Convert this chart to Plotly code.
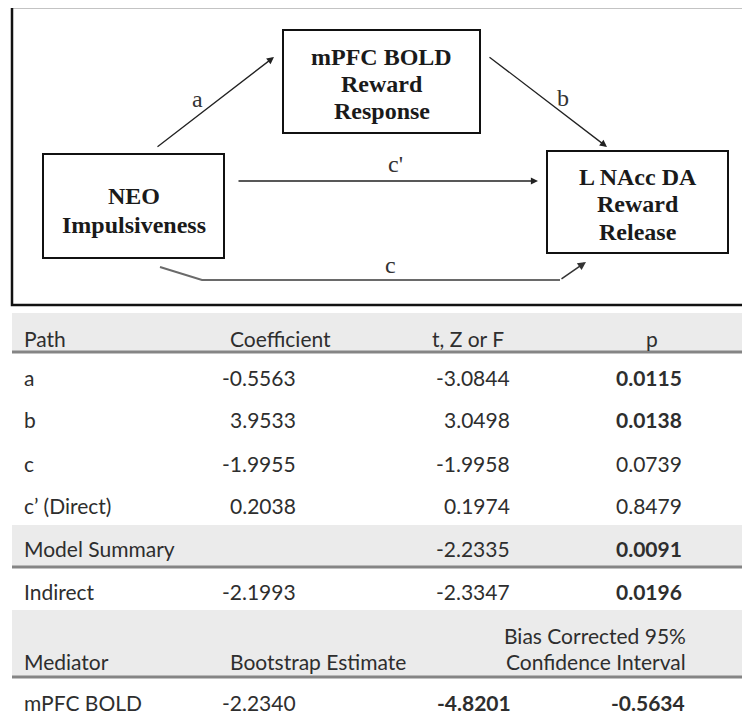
import plotly.graph_objects as go

# ---------------- data ----------------
node_labels = [["NEO", "Impulsiveness"],
               ["mPFC BOLD", "Reward", "Response"],
               ["L NAcc DA", "Reward", "Release"]]
path_labels = ["a", "b", "c'", "c"]

header = ["Path", "Coefficient", "t, Z or F", "p"]
paths = ["a", "b", "c", "c\u2019 (Direct)"]
coefficients = ["-0.5563", "3.9533", "-1.9955", "0.2038"]
stats = ["-3.0844", "3.0498", "-1.9958", "0.1974"]
pvalues = ["0.0115", "0.0138", "0.0739", "0.8479"]
p_bold = [True, True, False, False]

summary_label = "Model Summary"
summary_stat = "-2.2335"
summary_p = "0.0091"

indirect_label = "Indirect"
indirect_coef = "-2.1993"
indirect_stat = "-2.3347"
indirect_p = "0.0196"

boot_header = ["Mediator", "Bootstrap Estimate", "Bias Corrected 95%", "Confidence Interval"]
mediator = "mPFC BOLD"
boot_estimate = "-2.2340"
ci_low = "-4.8201"
ci_high = "-0.5634"

# ---------------- layout ----------------
W, H = 750, 715
OFF = 8  # page body margin
fig = go.Figure()
fig.add_trace(go.Scatter(x=[OFF, W], y=[OFF, H], mode="markers",
                         marker=dict(opacity=0), hoverinfo="skip", showlegend=False))

shapes = []
ann = []

SERIF = "Liberation Serif"
SANS = "Lato"
TXT = "#2e2e2e"
DIA = "#1a1a1a"

# outer frame
shapes.append(dict(type="rect", x0=12, x1=760, y0=7, y1=305,
                   line=dict(color="#111111", width=2.5), layer="above"))

# boxes
boxes = [(43, 224, 154, 258), (283, 480, 30, 133), (547, 728, 151, 253)]
line_ys = [[195.5, 224.5], [57, 84, 111], [177, 204, 232]]
for (x0, x1, y0, y1), labels, ys in zip(boxes, node_labels, line_ys):
    shapes.append(dict(type="rect", x0=x0, x1=x1, y0=y0, y1=y1,
                       line=dict(color="#111111", width=2)))
    for lab, yy in zip(labels, ys):
        ann.append(dict(x=(x0 + x1) / 2, y=yy, text="<b>%s</b>" % lab, showarrow=False,
                        xanchor="center", yanchor="middle",
                        font=dict(family=SERIF, size=24, color=DIA)))

def arrow(x0, y0, x1, y1, color="#222222", width=1.3):
    ann.append(dict(x=x1, y=y1, ax=x0, ay=y0, xref="x", yref="y", axref="x", ayref="y",
                    text="", showarrow=True, arrowhead=2, arrowsize=1.1,
                    arrowwidth=width, arrowcolor=color, standoff=0, startstandoff=0))

# a, b, c' arrows
arrow(156, 148, 274, 57)
arrow(488, 56, 607, 147)
arrow(237, 181, 538, 181)
# c path
shapes.append(dict(type="path", path="M 160 267 L 202 280 L 560 280",
                   line=dict(color="#6a6a6a", width=2)))
arrow(560, 280, 586, 262, color="#333333", width=1.5)

label_pos = [(197, 99), (563, 98), (395, 164), (390, 265)]
for lab, (lx, ly) in zip(path_labels, label_pos):
    ann.append(dict(x=lx, y=ly, text=lab, showarrow=False, xanchor="center", yanchor="middle",
                    font=dict(family=SERIF, size=24, color="#333333")))

# ---------------- table ----------------
GRAY = "#ebebeb"
RULE = "#858585"
for y0, y1 in [(313, 352), (525, 567), (610, 677)]:
    shapes.append(dict(type="rect", x0=12, x1=760, y0=y0, y1=y1,
                       fillcolor=GRAY, line=dict(width=0), layer="below"))
    shapes.append(dict(type="line", x0=12, x1=760, y0=y1, y1=y1,
                       line=dict(color=RULE, width=3)))

def txt(x, y, s, anchor="left", bold=False):
    ann.append(dict(x=x, y=y, text=("<b>%s</b>" % s) if bold else s, showarrow=False,
                    xanchor=anchor, yanchor="middle",
                    font=dict(family=SANS, size=21, color=TXT)))

COL_PATH = 22
COL_COEF_L = 228
COL_COEF_R = 298
COL_T_L = 430
COL_T_R = 512
COL_P_C = 652
COL_P_R = 684

hy = 338
txt(COL_PATH, hy, header[0])
txt(COL_COEF_L, hy, header[1])
txt(COL_T_L, hy, header[2])
txt(COL_P_C, hy, header[3], anchor="center")

row_y = [377, 419, 463, 505]
for yy, pth, cf, st, pv, pb in zip(row_y, paths, coefficients, stats, pvalues, p_bold):
    txt(COL_PATH, yy, pth)
    txt(COL_COEF_R, yy, cf, anchor="right")
    txt(COL_T_R, yy, st, anchor="right")
    txt(COL_P_R, yy, pv, anchor="right", bold=pb)

txt(COL_PATH, 548, summary_label)
txt(COL_T_R, 548, summary_stat, anchor="right")
txt(COL_P_R, 548, summary_p, anchor="right", bold=True)

txt(COL_PATH, 591, indirect_label)
txt(COL_COEF_R, 591, indirect_coef, anchor="right")
txt(COL_T_R, 591, indirect_stat, anchor="right")
txt(COL_P_R, 591, indirect_p, anchor="right", bold=True)

txt(COL_PATH, 661, boot_header[0])
txt(COL_COEF_L, 661, boot_header[1])
txt(688, 635, boot_header[2], anchor="right")
txt(688, 661, boot_header[3], anchor="right")

txt(COL_PATH, 702, mediator)
txt(COL_COEF_R, 702, boot_estimate, anchor="right")
txt(COL_T_R + 1, 702, ci_low, anchor="right", bold=True)
txt(687, 702, ci_high, anchor="right", bold=True)

fig.update_layout(
    width=W - OFF, height=H - OFF, margin=dict(l=0, r=0, t=0, b=0),
    paper_bgcolor="white", plot_bgcolor="white",
    xaxis=dict(range=[OFF, W], visible=False, fixedrange=True),
    yaxis=dict(range=[H, OFF], visible=False, fixedrange=True),
    shapes=shapes, annotations=ann, showlegend=False,
)
fig.write_html("out.html", config={"displayModeBar": False})
